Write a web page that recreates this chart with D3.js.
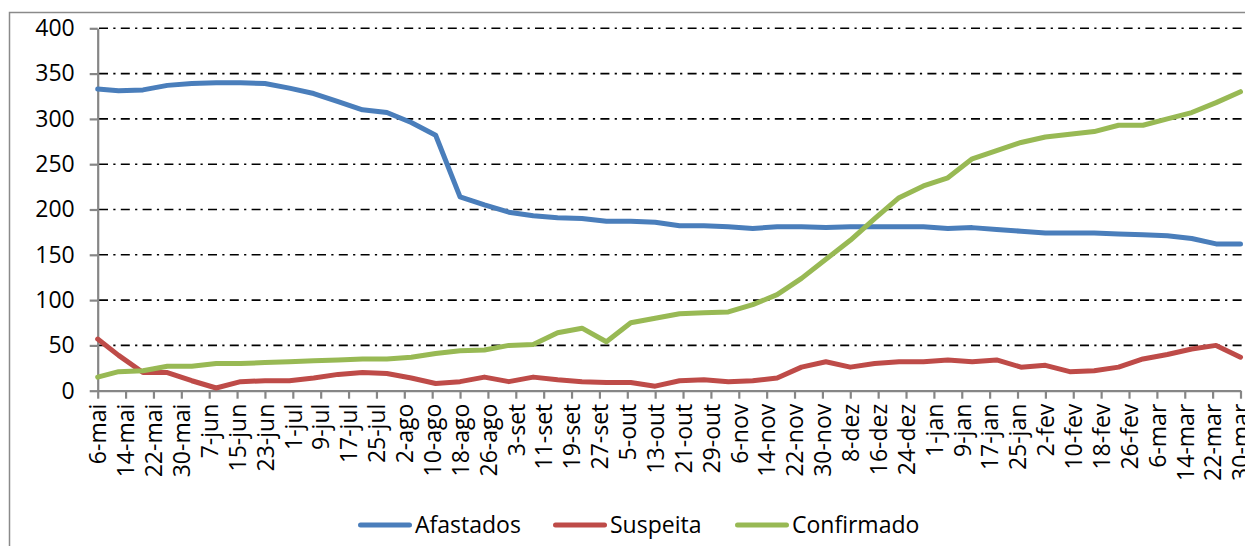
<!DOCTYPE html>
<html>
<head>
<meta charset="utf-8">
<script src="https://cdn.jsdelivr.net/npm/d3@7/dist/d3.min.js"></script>
<style>
    body { margin: 0; background: #fff; }
    svg text { font-family: "Open Sans", sans-serif; fill: #000; }
</style>
</head>
<body>
<svg id="chart" width="1245" height="546"></svg>
<script>
// datas das medições (semanal)
var dates = [
    "2020-05-06", "2020-05-12", "2020-05-19", "2020-05-26", "2020-06-02", "2020-06-09",
    "2020-06-16", "2020-06-23", "2020-06-30", "2020-07-07", "2020-07-14", "2020-07-21",
    "2020-07-28", "2020-08-04", "2020-08-11", "2020-08-18", "2020-08-25", "2020-09-01",
    "2020-09-08", "2020-09-15", "2020-09-22", "2020-09-29", "2020-10-06", "2020-10-13",
    "2020-10-20", "2020-10-27", "2020-11-03", "2020-11-10", "2020-11-17", "2020-11-24",
    "2020-12-01", "2020-12-08", "2020-12-15", "2020-12-22", "2020-12-29", "2021-01-05",
    "2021-01-12", "2021-01-19", "2021-01-26", "2021-02-02", "2021-02-09", "2021-02-16",
    "2021-02-23", "2021-03-02", "2021-03-09", "2021-03-16", "2021-03-23", "2021-03-30"
];

var afastados = [333, 331, 332, 337, 339, 340, 340, 339, 334, 328, 319, 310,
    307, 296, 282, 214, 205, 197, 193, 191, 190, 187, 187, 186,
    182, 182, 181, 179, 181, 181, 180, 181, 181, 181, 181, 179,
    180, 178, 176, 174, 174, 174, 173, 172, 171, 168, 162, 162];

var suspeita = [57, 39, 20, 20, 11, 3, 10, 11, 11, 14, 18, 20,
    19, 14, 8, 10, 15, 10, 15, 12, 10, 9, 9, 5,
    11, 12, 10, 11, 14, 26, 32, 26, 30, 32, 32, 34,
    32, 34, 26, 28, 21, 22, 26, 35, 40, 46, 50, 37];

var confirmado = [15, 21, 22, 27, 27, 30, 30, 31, 32, 33, 34, 35,
    35, 37, 41, 44, 45, 50, 51, 64, 69, 54, 75, 80,
    85, 86, 87, 95, 106, 124, 145, 166, 190, 213, 226, 235,
    256, 265, 274, 280, 283, 286, 293, 293, 300, 307, 318, 330];

var tickLabels = ["6-mai", "14-mai", "22-mai", "30-mai", "7-jun", "15-jun", "23-jun",
    "1-jul", "9-jul", "17-jul", "25-jul", "2-ago", "10-ago", "18-ago", "26-ago",
    "3-set", "11-set", "19-set", "27-set", "5-out", "13-out", "21-out", "29-out",
    "6-nov", "14-nov", "22-nov", "30-nov", "8-dez", "16-dez", "24-dez", "1-jan",
    "9-jan", "17-jan", "25-jan", "2-fev", "10-fev", "18-fev", "26-fev", "6-mar",
    "14-mar", "22-mar", "30-mar"];

var yTicks = [0, 50, 100, 150, 200, 250, 300, 350, 400];

var seriesNames = ["Afastados", "Suspeita", "Confirmado"];
var seriesColors = ["#4a7ebb", "#be4b48", "#98b954"];

var meses = {jan: 0, fev: 1, mar: 2, abr: 3, mai: 4, jun: 5, jul: 6, ago: 7, set: 8, out: 9, nov: 10, dez: 11};

/**
 * converte "6-mai" numa data
 */
function labelToDate(lbl) {
    var p = lbl.split("-");
    var m = meses[p[1]];
    return new Date(m >= 4 ? 2020 : 2021, m, +p[0]);
}

var parse = d3.timeParse("%Y-%m-%d");
var dateVals = dates.map(parse);
var tickDates = tickLabels.map(labelToDate);

var svg = d3.select("#chart");

// moldura externa
svg.append("rect")
    .attr("x", 9.5)
    .attr("y", 12.5)
    .attr("width", 1400)
    .attr("height", 700)
    .style("fill", "none")
    .style("stroke", "#8a8a8a")
    .style("stroke-width", 1.5);

var x = d3.scaleTime()
    .domain([tickDates[0], tickDates[tickDates.length - 1]])
    .range([97.7, 1240.5]);

var y = d3.scaleLinear()
    .domain([0, 400])
    .range([390.7, 28.3]);

// linhas de grade traço-ponto
svg.append("g")
    .selectAll("line")
    .data(yTicks.filter(function (d) { return d > 0; }))
    .enter().append("line")
    .attr("x1", 99)
    .attr("x2", 1260)
    .attr("y1", function (d) { return y(d); })
    .attr("y2", function (d) { return y(d); })
    .style("stroke", "#000")
    .style("stroke-width", 1.6)
    .style("stroke-dasharray", "9,5.3,2.2,5.3");

// eixo y
var yAxis = svg.append("g")
    .attr("transform", "translate(" + x.range()[0] + ",0)")
    .call(d3.axisLeft(y).tickValues(yTicks).tickSize(8).tickSizeOuter(0).tickPadding(15));
yAxis.selectAll("text")
    .style("font-size", "23px");

// eixo x
var xAxis = svg.append("g")
    .attr("transform", "translate(0," + y(0) + ")")
    .call(d3.axisBottom(x)
        .tickValues(tickDates)
        .tickFormat(function (d, i) { return tickLabels[i]; })
        .tickSize(8)
        .tickSizeOuter(0));
xAxis.selectAll("text")
    .style("font-size", "23px")
    .style("text-anchor", "end")
    .attr("transform", "rotate(-90)")
    .attr("x", -13)
    .attr("y", 0)
    .attr("dy", "0.36em");

svg.selectAll(".domain, .tick line")
    .style("stroke", "#868686")
    .style("stroke-width", 2.2);

// linhas das séries
var line = d3.line()
    .x(function (d, i) { return x(dateVals[i]); })
    .y(function (d) { return y(d); });

var allSeries = [afastados, suspeita, confirmado];

svg.append("g")
    .selectAll("path")
    .data(allSeries)
    .enter().append("path")
    .attr("d", line)
    .style("fill", "none")
    .style("stroke", function (d, i) { return seriesColors[i]; })
    .style("stroke-width", 5)
    .style("stroke-linejoin", "round")
    .style("stroke-linecap", "round");

// legenda
var legendX = [358, 553, 735];
var legend = svg.append("g")
    .selectAll("g")
    .data(seriesNames)
    .enter().append("g")
    .attr("transform", function (d, i) { return "translate(" + legendX[i] + ",525)"; });

legend.append("line")
    .attr("x1", 2.5)
    .attr("x2", 51.5)
    .style("stroke", function (d, i) { return seriesColors[i]; })
    .style("stroke-width", 5)
    .style("stroke-linecap", "round");

legend.append("text")
    .attr("x", 57)
    .attr("dy", "0.35em")
    .style("font-size", "23px")
    .text(function (d) { return d; });
</script>
</body>
</html>
